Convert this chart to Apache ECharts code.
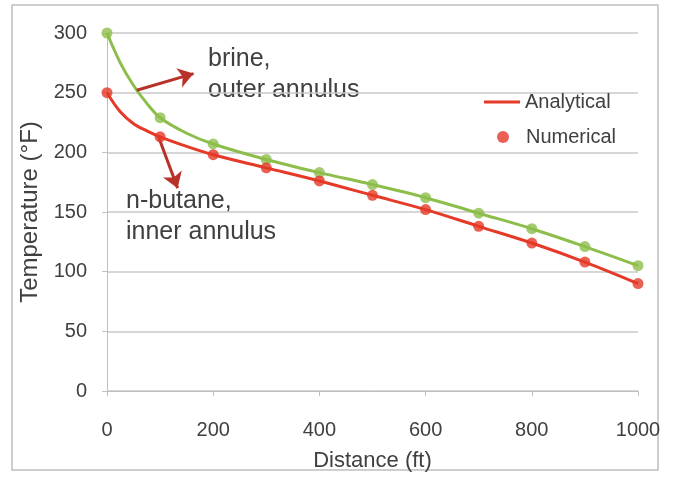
<!DOCTYPE html>
<html>
<head>
<meta charset="utf-8">
<script src="https://cdn.jsdelivr.net/npm/echarts@6/dist/echarts.min.js"></script>
<style>html,body{margin:0;padding:0;background:#fff;}#c{width:674px;height:479px;}</style>
</head>
<body>
<div id="c"></div>
<script>
// Numerical points (ft, °F)
var distNum = [0, 100, 200, 300, 400, 500, 600, 700, 800, 900, 1000];
var brineNum = [300, 229, 207, 194, 183, 173, 162, 149, 136, 121, 105];
var butaneNum = [250, 213, 198, 187, 176, 164, 152, 138, 124, 108, 90];
// Analytical curves
var distAna = [0, 25, 50, 75, 100, 150, 200, 300, 400, 500, 600, 700, 800, 900, 1000];
var brineAna = [300, 275, 256, 241, 229, 216, 207, 194, 183, 173, 162, 149, 136, 121, 105];
var butaneAna = [250, 234, 224, 218, 213, 205, 198, 187, 176, 164, 152, 138, 124, 108, 90];
var xTicks = [0, 200, 400, 600, 800, 1000];
var yTicks = [0, 50, 100, 150, 200, 250, 300];

var GREEN = '#8DBE4B', RED = '#E53A28', ARROW = '#B8322A', TXT = '#404040';
var FONT = "'Liberation Sans',Arial,sans-serif";

function pairs(xs, ys) { return xs.map(function (x, i) { return [x, ys[i]]; }); }

var chart = echarts.init(document.getElementById('c'));
chart.setOption({
  animation: false,
  backgroundColor: '#fff',
  grid: { left: 107, right: 36, top: 33, bottom: 88 },
  xAxis: {
    type: 'value', min: 0, max: 1000, interval: 200,
    name: 'Distance (ft)', nameLocation: 'middle', nameGap: 59,
    nameTextStyle: { color: TXT, fontSize: 22, fontFamily: FONT },
    axisLine: { lineStyle: { color: '#BFBFBF', width: 1 } },
    axisTick: { show: true, length: 5, lineStyle: { color: '#BFBFBF' } },
    axisLabel: { color: TXT, fontSize: 20, fontFamily: FONT, margin: 29,
      formatter: function (v) { return xTicks.indexOf(v) >= 0 ? String(v) : ''; } },
    splitLine: { show: false }
  },
  yAxis: {
    type: 'value', min: 0, max: 300, interval: 50,
    name: 'Temperature (°F)', nameLocation: 'middle', nameGap: 63, nameRotate: 90,
    nameTextStyle: { color: TXT, fontSize: 24, fontFamily: FONT },
    axisLine: { show: true, lineStyle: { color: '#BFBFBF', width: 1 } },
    axisTick: { show: true, length: 5, lineStyle: { color: '#BFBFBF' } },
    axisLabel: { color: TXT, fontSize: 20, fontFamily: FONT, margin: 20,
      formatter: function (v) { return yTicks.indexOf(v) >= 0 ? String(v) : ''; } },
    splitLine: { show: true, lineStyle: { color: '#C8C8C8', width: 1.5 } }
  },
  legend: [
    { data: [{ name: 'Analytical', icon: 'rect' }], left: 484, top: 92, padding: 0,
      itemWidth: 36, itemHeight: 3, itemGap: 4,
      textStyle: { color: TXT, fontSize: 20, fontFamily: FONT } },
    { data: [{ name: 'Numerical', icon: 'circle' }], left: 497, top: 127, padding: 0,
      itemWidth: 36, itemHeight: 12, itemGap: 4,
      textStyle: { color: TXT, fontSize: 20, fontFamily: FONT } }
  ],
  series: [
    { name: 'Brine analytical', type: 'line', data: pairs(distAna, brineAna), smooth: 0.35,
      showSymbol: false, lineStyle: { color: GREEN, width: 3 }, itemStyle: { color: GREEN }, z: 2 },
    { name: 'Analytical', type: 'line', data: pairs(distAna, butaneAna), smooth: 0.35,
      showSymbol: false, lineStyle: { color: RED, width: 3 }, itemStyle: { color: RED }, z: 3,
      markLine: {
        silent: true, symbol: ['none', 'arrow'], symbolSize: 15,
        label: { show: false },
        emphasis: { disabled: true },
        lineStyle: { color: ARROW, width: 3, type: 'solid' },
        data: [
          [{ coord: [56, 252] }, { coord: [163, 266] }],
          [{ coord: [97, 213] }, { coord: [133, 170] }]
        ]
      } },
    { name: 'Brine numerical', type: 'scatter', data: pairs(distNum, brineNum),
      symbol: 'circle', symbolSize: 11, itemStyle: { color: GREEN }, z: 4 },
    { name: 'Numerical', type: 'scatter', data: pairs(distNum, butaneNum),
      symbol: 'circle', symbolSize: 11, itemStyle: { color: RED }, z: 5 }
  ],
  graphic: [
    { type: 'rect', shape: { x: 12, y: 5, width: 646, height: 465 }, silent: true,
      style: { fill: 'none', stroke: '#BFBFBF', lineWidth: 1.5 }, z: -1 },
    { type: 'text', left: 208, top: 44, silent: true,
      style: { text: 'brine,\nouter annulus', fill: TXT, fontSize: 25, lineHeight: 31,
        fontFamily: FONT } },
    { type: 'text', left: 126, top: 186, silent: true,
      style: { text: 'n-butane,\ninner annulus', fill: TXT, fontSize: 25, lineHeight: 31,
        fontFamily: FONT } }
  ]
});
</script>
</body>
</html>
